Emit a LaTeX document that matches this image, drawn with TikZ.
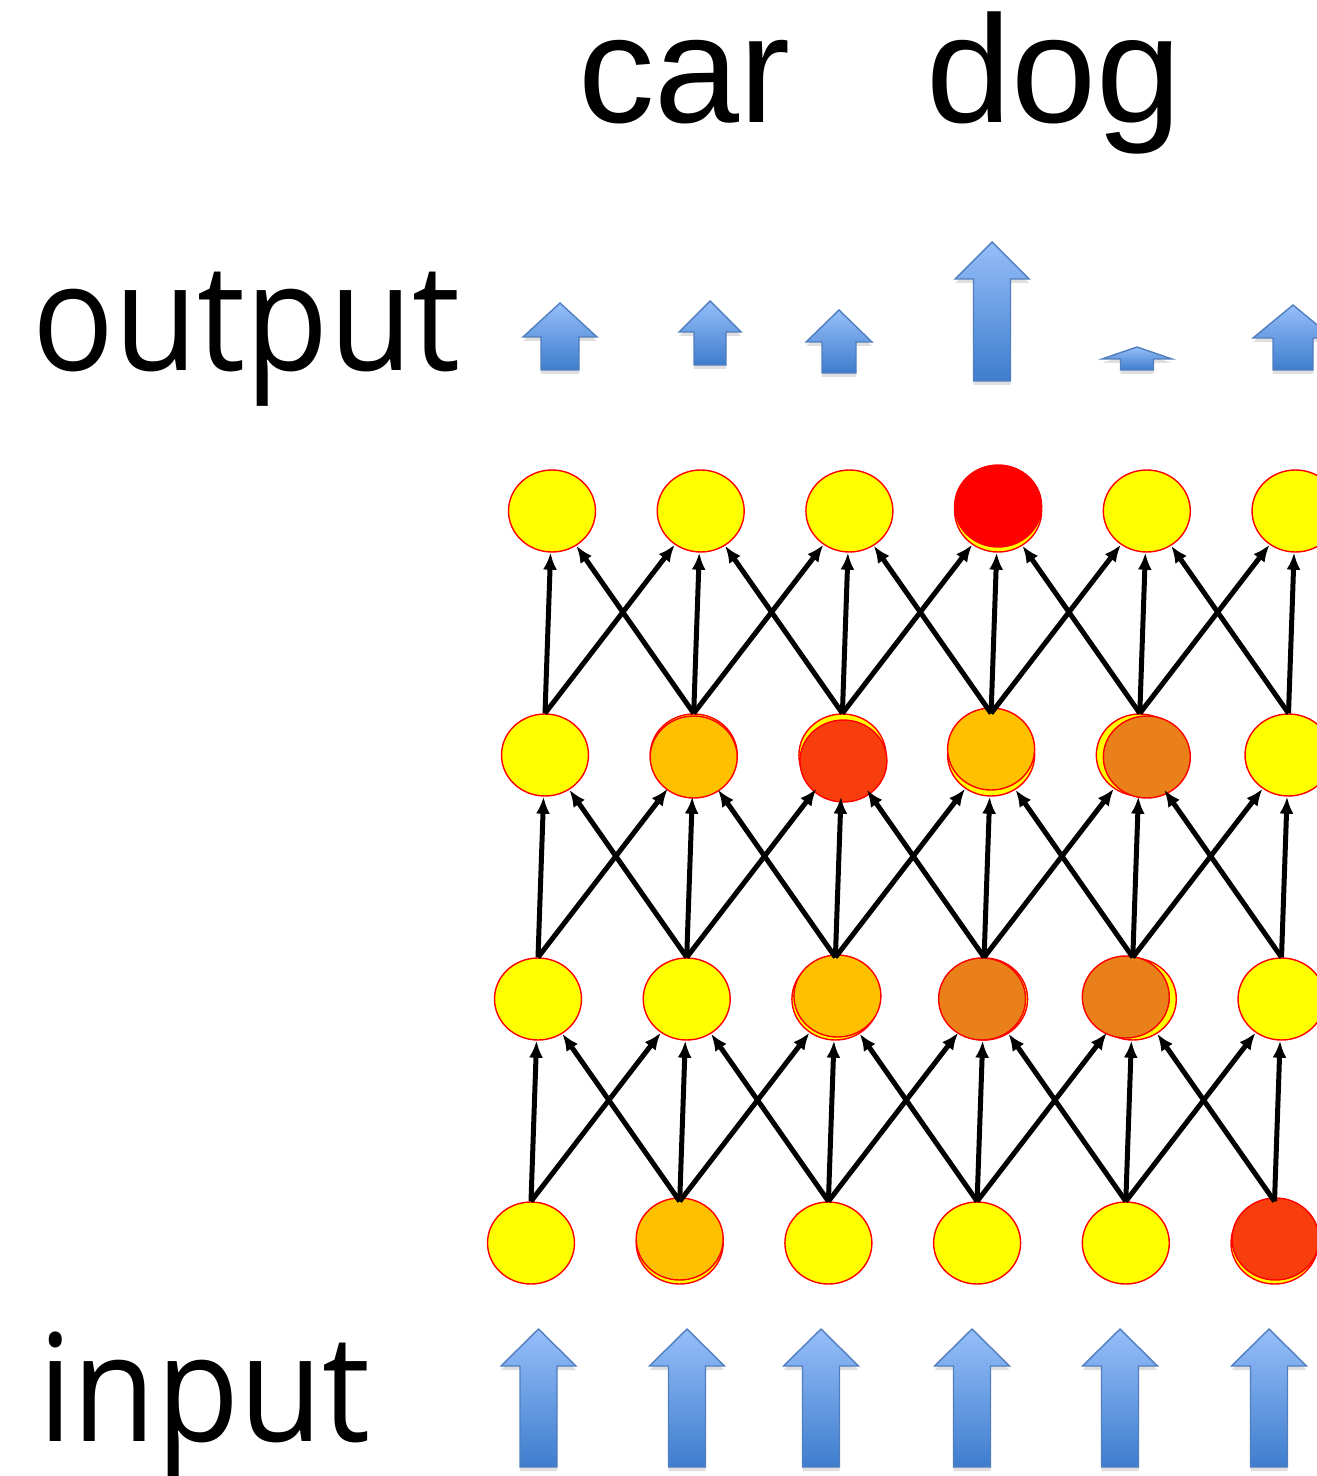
\documentclass[tikz,border=0pt]{standalone}
\usepackage{fontspec}
\setmainfont{Liberation Sans}
\newfontfamily\labelfont[FakeStretch=0.91]{Open Sans}
\usepackage{tikz}
\usetikzlibrary{shapes,arrows.meta,shadows}
\definecolor{nodeyellow}{RGB}{255,255,0}
\definecolor{nodeorange}{RGB}{255,192,0}
\definecolor{nodedark}{RGB}{233,128,26}
\definecolor{nodered}{RGB}{247,62,12}
\definecolor{nodehot}{RGB}{255,0,0}
\definecolor{arrowtop}{RGB}{150,190,250}
\definecolor{arrowbot}{RGB}{62,125,205}
\definecolor{arrowline}{RGB}{80,126,190}
\tikzstyle{unit} = [draw=red,line width=0.8pt,ellipse,inner sep=0,minimum width=1.74cm,minimum height=1.64cm,fill=nodeyellow]
\tikzstyle{link} = [-{Latex[length=0.34cm,width=0.28cm]},line width=0.1cm]
\tikzstyle{block} = [draw=arrowline,line width=0.8pt,top color=arrowtop,bottom color=arrowbot,drop shadow={shadow xshift=0pt,shadow yshift=-0.08cm,opacity=0.25}]
\tikzstyle{word} = [inner sep=0,anchor=base west,font=\fontsize{87}{100}\selectfont]
\tikzstyle{side} = [inner sep=0,anchor=base west,font=\labelfont\fontsize{85}{100}\selectfont]
\def \cw {148.7}
% block arrow: x, tip, shoulder, bottom, head half width, shaft half width
\newcommand{\blockup}[6]{\path[block] (#1,#2) -- (#1+#5,#3) -- (#1+#6,#3) -- (#1+#6,#4) -- (#1-#6,#4) -- (#1-#6,#3) -- (#1-#5,#3) -- cycle;}

\begin{document}
\begin{tikzpicture}[x=0.02cm,y=-0.02cm]
  \useasboundingbox (0,0) rectangle (1317,1476);
  \clip (0,0) rectangle (1317,1476);
  % output scores
  \blockup{560}{303}{337}{370}{37}{19}
  \blockup{710}{301}{332}{365}{31}{16}
  \blockup{839}{310}{342}{373}{33}{17}
  \blockup{992}{242}{279}{381}{37}{18.5}
  \blockup{1137}{347}{359}{370}{35}{16.5}
  \blockup{1293}{305}{338}{370}{40}{20}
  % inputs
  \blockup{538.5}{1329}{1366}{1467}{37.5}{18.5}
  \blockup{687}{1329}{1366}{1467}{37.5}{18.5}
  \blockup{821}{1329}{1366}{1467}{37.5}{18.5}
  \blockup{972}{1329}{1366}{1467}{37.5}{18.5}
  \blockup{1120}{1329}{1366}{1467}{37.5}{18.5}
  \blockup{1269}{1329}{1366}{1467}{37.5}{18.5}
  \node[word] (car) at (578,123) {car};
  \node[word] (dog) at (926,123) {dog};
  \node[side] (out) at (32,371) {output};
  \node[side] (in) at (38,1441) {input};
  % grid of units
  \foreach \r in {1,...,4} {
    \foreach \c in {1,...,6} {
      \node[unit] (n\r\c) at ({531+\cw*(\c-1)+7*(\r-1)},{1243-244*(\r-1)}) {};
    }
  }
  % activations
  \node[unit,fill=nodeorange] (h12) at ([shift={(0,-4)}]n12) {};
  \node[unit,fill=nodered] (h16) at ([shift={(1,-4)}]n16) {};
  \node[unit,fill=nodeorange] (h23) at ([shift={(2,-3)}]n23) {};
  \node[unit,fill=nodedark] (h24) at ([shift={(-2,0)}]n24) {};
  \node[unit,fill=nodedark] (h25) at ([shift={(-7,-2)}]n25) {};
  \node[unit,fill=nodeorange] (h32) at ([shift={(0,2)}]n32) {};
  \node[unit,fill=nodered] (h33) at ([shift={(1,6)}]n33) {};
  \node[unit,fill=nodeorange] (h34) at ([shift={(0,-6)}]n34) {};
  \node[unit,fill=nodedark] (h35) at ([shift={(7,2)}]n35) {};
  \node[unit,fill=nodehot,draw=nodehot] (h44) at ([shift={(0,-5)}]n44) {};
  % connections
  \foreach \r [evaluate=\r as \u using int(\r+1)] in {1,2,3} {
    \foreach \c in {1,...,6} {
      \draw[link] (n\r\c.north) -- (n\u\c);
    }
    \foreach \c [evaluate=\c as \d using int(\c+1)] in {1,...,5} {
      \draw[link] (n\r\c.north) -- (n\u\d);
      \draw[link] (n\r\d.north) -- (n\u\c);
    }
  }
\end{tikzpicture}
\end{document}
